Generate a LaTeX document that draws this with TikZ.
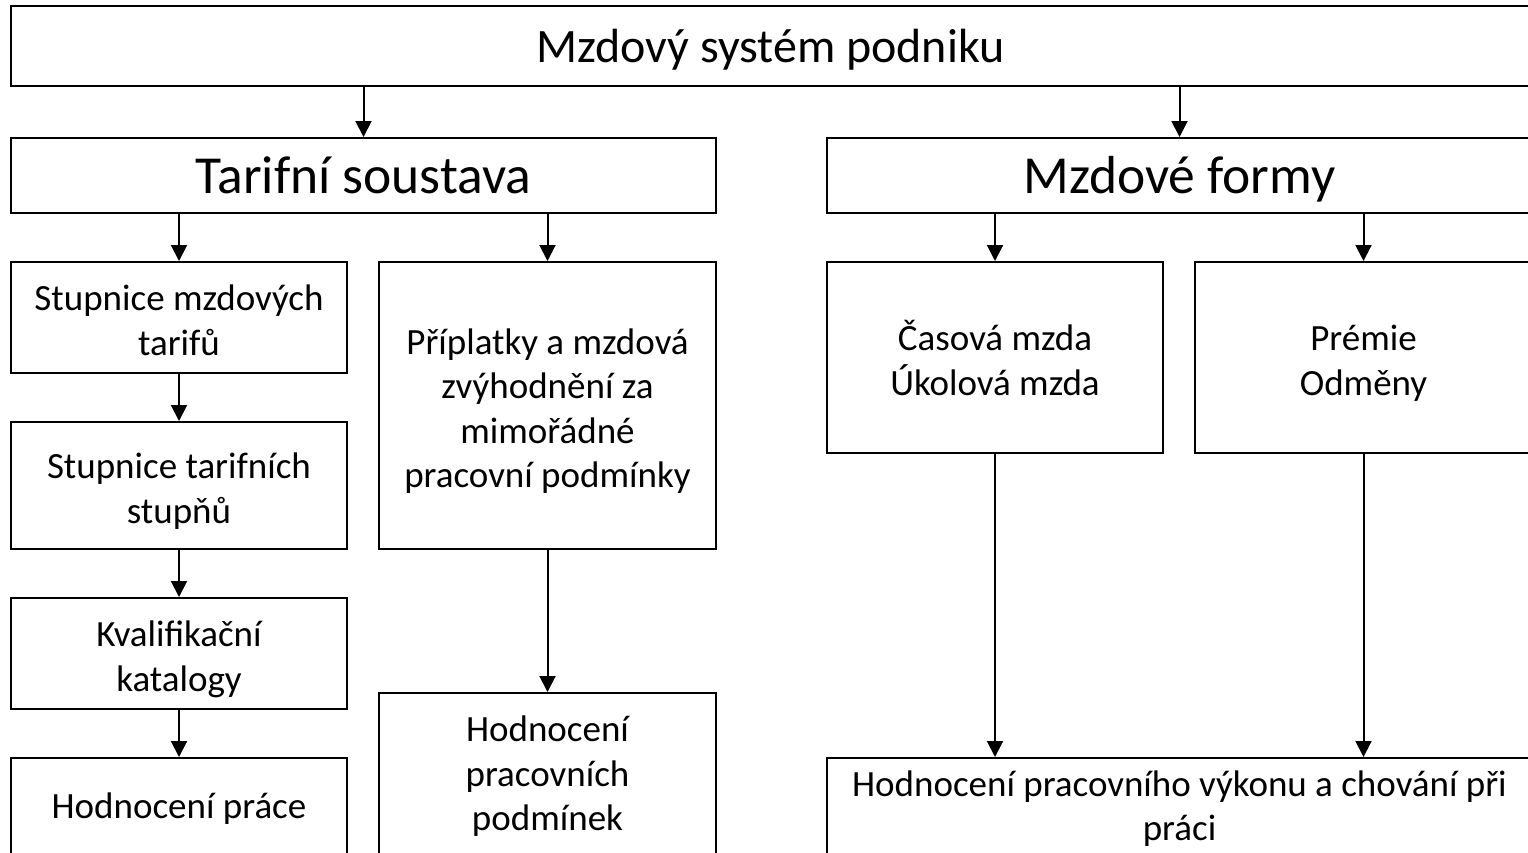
\documentclass[tikz,border=0pt]{standalone}
\usepackage{fontspec}
\setmainfont{Carlito}
\usetikzlibrary{arrows.meta}
\newcommand{\hs}{\rule{0pt}{42pt}}
\newcommand{\hsl}{\rule{0pt}{34pt}}
\newcommand{\ds}{\rule[-11pt]{0pt}{11pt}}

\begin{document}
\begin{tikzpicture} [x=1pt,y=-1pt,
        frame/.style={draw, line width=2pt, inner sep=0pt, align=center},
        box/.style={frame, font=\fontsize{37}{44.5}\selectfont},
        head/.style 2 args={frame, font=\fontsize{#1}{#2}\selectfont,
            execute at begin node={\rule{0pt}{0.92em}}, execute at end node={\rule[-0.25em]{0pt}{0.25em}}},
        arr/.style={line width=2pt, -{Triangle[width=16pt,length=16pt]}}]
        \useasboundingbox (0,0) rectangle (1528,852);
        \clip (0,0) rectangle (1528,852);

        % top level
        \node[head={48}{58}, minimum width=1519pt, minimum height=80pt] (sys) at (770.5,46) {Mzdový systém podniku};
        \node[head={53.5}{64}, minimum width=705pt, minimum height=75pt] (tarif) at (363.5,175.5) {Tarifní soustava};
        \node[head={53.5}{64}, minimum width=705pt, minimum height=75pt] (formy) at (1179.5,175.5) {Mzdové formy};

        % tarifni soustava
        \node[box, minimum width=336pt, minimum height=111pt] (stmz) at (179,317.5) {\hs Stupnice mzdových\\tarifů\ds};
        \node[box, minimum width=336pt, minimum height=127pt] (stts) at (179,485.5) {\hs Stupnice tarifních\\stupňů\ds};
        \node[box, minimum width=336pt, minimum height=111pt] (kval) at (179,653.5) {\hs Kvalifikační\\katalogy\ds};
        \node[box, minimum width=336pt, minimum height=98pt] (hpr) at (179,807) {\hsl Hodnocení práce\ds};
        \node[box, minimum width=337pt, minimum height=287pt] (prip) at (547.5,405.5) {\hs Příplatky a mzdová\\zvýhodnění za\\mimořádné\\pracovní podmínky\ds};
        \node[box, minimum width=337pt, minimum height=163pt] (hpp) at (547.5,774.5) {\hsl Hodnocení\\pracovních\\podmínek\ds};

        % mzdove formy
        \node[box, minimum width=336pt, minimum height=191pt] (cas) at (995,357.5) {\hs Časová mzda\\Úkolová mzda\ds};
        \node[box, minimum width=337pt, minimum height=191pt] (prem) at (1363.5,357.5) {\hs Prémie\\Odměny\ds};
        \node[box, minimum width=705pt, minimum height=98pt] (hvyk) at (1179.5,807) {\hsl Hodnocení pracovního výkonu a chování při\\práci\ds};

        \draw[arr] (sys.south -| tarif.north) -- (tarif.north); \draw[arr] (sys.south -| formy.north) -- (formy.north);
        \draw[arr] (tarif.south -| stmz.north) -- (stmz.north); \draw[arr] (tarif.south -| prip.north) -- (prip.north);
        \draw[arr] (stmz) -- (stts); \draw[arr] (stts) -- (kval); \draw[arr] (kval) -- (hpr); \draw[arr] (prip) -- (hpp);
        \draw[arr] (formy.south -| cas.north) -- (cas.north); \draw[arr] (formy.south -| prem.north) -- (prem.north);
        \draw[arr] (cas.south) -- (cas.south |- hvyk.north); \draw[arr] (prem.south) -- (prem.south |- hvyk.north);
    \end{tikzpicture}
\end{document}
